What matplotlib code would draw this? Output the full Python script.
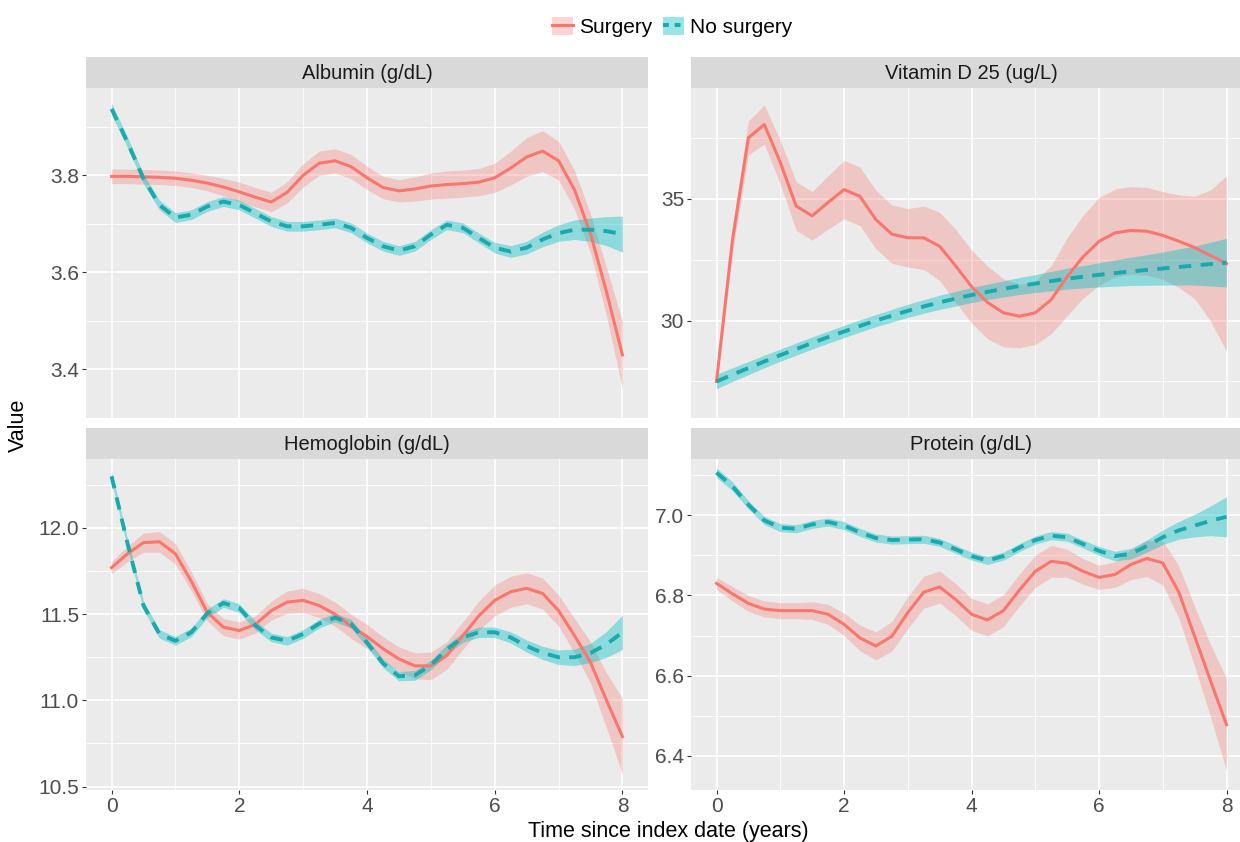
import matplotlib.pyplot as plt
from matplotlib.lines import Line2D
from matplotlib.patches import Patch
from matplotlib.ticker import FormatStrFormatter

times = [0, 0.25, 0.5, 0.75, 1, 1.25, 1.5, 1.75, 2, 2.25, 2.5, 2.75, 3, 3.25, 3.5, 3.75,
         4, 4.25, 4.5, 4.75, 5, 5.25, 5.5, 5.75, 6, 6.25, 6.5, 6.75, 7, 7.25, 7.5, 7.75, 8]

# Albumin (g/dL)
alb_surg = [3.798, 3.798, 3.797, 3.796, 3.794, 3.790, 3.784, 3.776, 3.766, 3.755, 3.745, 3.765,
            3.800, 3.825, 3.830, 3.818, 3.795, 3.775, 3.768, 3.772, 3.778, 3.781, 3.783, 3.786,
            3.795, 3.815, 3.838, 3.850, 3.830, 3.770, 3.680, 3.560, 3.430]
alb_surg_se = [0.015, 0.015, 0.015, 0.015, 0.015, 0.015, 0.016, 0.018, 0.02, 0.02, 0.02, 0.022,
               0.024, 0.025, 0.025, 0.025, 0.024, 0.023, 0.023, 0.025, 0.027, 0.028, 0.028, 0.028,
               0.03, 0.035, 0.04, 0.042, 0.04, 0.04, 0.04, 0.05, 0.07]
alb_none = [3.937, 3.868, 3.793, 3.739, 3.713, 3.719, 3.736, 3.746, 3.739, 3.722, 3.705, 3.695,
            3.695, 3.698, 3.702, 3.692, 3.671, 3.654, 3.645, 3.654, 3.678, 3.698, 3.692, 3.671,
            3.651, 3.643, 3.651, 3.668, 3.681, 3.688, 3.688, 3.685, 3.679]
alb_none_se = [0.012, 0.011, 0.01, 0.01, 0.01, 0.01, 0.01, 0.01, 0.01, 0.01, 0.01, 0.01,
               0.01, 0.01, 0.01, 0.01, 0.01, 0.01, 0.01, 0.01, 0.01, 0.01, 0.01, 0.01,
               0.011, 0.012, 0.013, 0.015, 0.017, 0.02, 0.024, 0.03, 0.037]

# Vitamin D 25 (ug/L)
vitd_surg = [27.5, 33.3, 37.5, 38.05, 36.5, 34.7, 34.3, 34.85, 35.38, 35.1, 34.15, 33.55,
             33.4, 33.4, 33.05, 32.25, 31.4, 30.75, 30.32, 30.18, 30.32, 30.86, 31.8, 32.62,
             33.25, 33.6, 33.7, 33.67, 33.5, 33.26, 33.0, 32.67, 32.34]
vitd_surg_se = [0.15, 0.5, 0.7, 0.8, 0.9, 1.0, 1.0, 1.1, 1.2, 1.2, 1.2, 1.2,
                1.2, 1.3, 1.4, 1.5, 1.5, 1.5, 1.4, 1.3, 1.3, 1.4, 1.6, 1.7,
                1.8, 1.8, 1.8, 1.8, 1.8, 1.9, 2.1, 2.7, 3.6]
vitd_none = [27.5, 27.78, 28.05, 28.32, 28.58, 28.83, 29.08, 29.32, 29.55, 29.78, 30.0, 30.2,
             30.4, 30.58, 30.75, 30.9, 31.05, 31.18, 31.3, 31.42, 31.52, 31.62, 31.72, 31.8,
             31.88, 31.95, 32.02, 32.08, 32.14, 32.2, 32.26, 32.32, 32.38]
vitd_none_se = [0.3, 0.28, 0.27, 0.26, 0.25, 0.25, 0.25, 0.25, 0.25, 0.25, 0.25, 0.26,
                0.27, 0.28, 0.29, 0.3, 0.31, 0.32, 0.33, 0.35, 0.37, 0.4, 0.43, 0.46,
                0.5, 0.54, 0.58, 0.63, 0.68, 0.74, 0.8, 0.9, 1.0]

# Hemoglobin (g/dL)
hgb_surg = [11.77, 11.85, 11.915, 11.92, 11.85, 11.69, 11.51, 11.425, 11.405, 11.44, 11.52, 11.57,
            11.58, 11.55, 11.50, 11.43, 11.37, 11.30, 11.24, 11.20, 11.20, 11.26, 11.375, 11.49,
            11.58, 11.63, 11.65, 11.62, 11.52, 11.375, 11.22, 11.0, 10.79]
hgb_surg_se = [0.035, 0.045, 0.055, 0.06, 0.06, 0.055, 0.05, 0.05, 0.05, 0.05, 0.055, 0.065,
               0.07, 0.07, 0.07, 0.07, 0.07, 0.07, 0.07, 0.075, 0.08, 0.08, 0.08, 0.085,
               0.09, 0.09, 0.09, 0.09, 0.09, 0.1, 0.12, 0.16, 0.22]
hgb_none = [12.30, 11.91, 11.55, 11.385, 11.345, 11.395, 11.505, 11.565, 11.535, 11.435, 11.365, 11.345,
            11.385, 11.445, 11.48, 11.445, 11.335, 11.215, 11.14, 11.145, 11.205, 11.295, 11.365, 11.395,
            11.395, 11.365, 11.315, 11.275, 11.25, 11.25, 11.275, 11.325, 11.395]
hgb_none_se = [0.03, 0.028, 0.026, 0.025, 0.025, 0.025, 0.025, 0.025, 0.025, 0.025, 0.025, 0.025,
               0.025, 0.025, 0.025, 0.025, 0.025, 0.025, 0.027, 0.028, 0.028, 0.028, 0.028, 0.03,
               0.03, 0.032, 0.035, 0.038, 0.042, 0.048, 0.056, 0.075, 0.1]

# Protein (g/dL)
prot_surg = [6.83, 6.804, 6.78, 6.766, 6.762, 6.762, 6.762, 6.753, 6.728, 6.694, 6.674, 6.698,
             6.757, 6.808, 6.821, 6.79, 6.753, 6.739, 6.762, 6.813, 6.86, 6.885, 6.88, 6.86,
             6.845, 6.852, 6.877, 6.892, 6.881, 6.809, 6.698, 6.587, 6.478]
prot_surg_se = [0.015, 0.018, 0.02, 0.02, 0.02, 0.02, 0.022, 0.025, 0.028, 0.032, 0.035, 0.037,
                0.04, 0.04, 0.04, 0.04, 0.04, 0.04, 0.04, 0.04, 0.04, 0.04, 0.035, 0.032,
                0.03, 0.032, 0.038, 0.045, 0.055, 0.065, 0.075, 0.09, 0.115]
prot_none = [7.106, 7.072, 7.026, 6.987, 6.969, 6.966, 6.977, 6.983, 6.974, 6.957, 6.943, 6.938,
             6.939, 6.94, 6.932, 6.915, 6.898, 6.887, 6.898, 6.919, 6.938, 6.949, 6.945, 6.928,
             6.911, 6.898, 6.904, 6.923, 6.945, 6.962, 6.974, 6.986, 6.996]
prot_none_se = [0.012, 0.011, 0.01, 0.01, 0.01, 0.01, 0.01, 0.01, 0.01, 0.01, 0.01, 0.01,
                0.01, 0.01, 0.01, 0.01, 0.01, 0.01, 0.01, 0.01, 0.01, 0.01, 0.01, 0.01,
                0.011, 0.012, 0.013, 0.015, 0.018, 0.022, 0.028, 0.037, 0.05]

x_ticks = [0, 2, 4, 6, 8]
x_minor = [1, 3, 5, 7]

panels = [
    ("Albumin (g/dL)", alb_surg, alb_surg_se, alb_none, alb_none_se,
     [3.4, 3.6, 3.8], [3.3, 3.5, 3.7, 3.9], (3.31, 3.98), "%.1f"),
    ("Vitamin D 25 (ug/L)", vitd_surg, vitd_surg_se, vitd_none, vitd_none_se,
     [30, 35], [27.5, 32.5, 37.5], (26.0, 39.55), "%d"),
    ("Hemoglobin (g/dL)", hgb_surg, hgb_surg_se, hgb_none, hgb_none_se,
     [10.5, 11.0, 11.5, 12.0], [10.75, 11.25, 11.75, 12.25], (10.48, 12.40), "%.1f"),
    ("Protein (g/dL)", prot_surg, prot_surg_se, prot_none, prot_none_se,
     [6.4, 6.6, 6.8, 7.0], [6.5, 6.7, 6.9, 7.1], (6.315, 7.14), "%.1f"),
]

RED = '#F8766D'
TEAL = '#00BFC4'
TEAL_LINE = '#1AA9AD'

plt.rcParams['font.family'] = ['Liberation Sans', 'DejaVu Sans']

W, H = 1240, 842
fig = plt.figure(figsize=(W / 100, H / 100), dpi=100)


def px_axes(x0, y0, x1, y1):
    return fig.add_axes([x0 / W, 1 - y1 / H, (x1 - x0) / W, (y1 - y0) / H])


# pixel boxes: (left, right) per column, (strip top, panel top, panel bottom) per row
cols = [(86, 648), (691, 1252)]
rows = [(57, 88, 418), (428, 459, 790)]

for i, (title, s, s_se, n, n_se, yt, ym, ylim, fmt) in enumerate(panels):
    r, c = divmod(i, 2)
    x0, x1 = cols[c]
    st, pt, pb = rows[r]

    strip = px_axes(x0, st, x1, pt)
    strip.set_facecolor('#D9D9D9')
    strip.set_xticks([])
    strip.set_yticks([])
    for sp in strip.spines.values():
        sp.set_visible(False)
    strip.text(0.5, 0.48, title, ha='center', va='center', fontsize=14.5, color='#1A1A1A',
               transform=strip.transAxes)

    ax = px_axes(x0, pt, x1, pb)
    ax.set_facecolor('#EBEBEB')
    for sp in ax.spines.values():
        sp.set_visible(False)

    lo_s = [m - e for m, e in zip(s, s_se)]
    hi_s = [m + e for m, e in zip(s, s_se)]
    lo_n = [m - e for m, e in zip(n, n_se)]
    hi_n = [m + e for m, e in zip(n, n_se)]
    ax.fill_between(times, lo_s, hi_s, color=RED, alpha=0.3, lw=0)
    ax.fill_between(times, lo_n, hi_n, color=TEAL, alpha=0.4, lw=0)
    ax.plot(times, s, color=RED, lw=2.2, solid_joinstyle='round')
    ax.plot(times, n, color=TEAL_LINE, lw=2.8, dashes=(3.2, 2.4))

    ax.set_xlim(-0.4, 8.4)
    ax.set_ylim(*ylim)
    ax.set_xticks(x_ticks)
    ax.set_xticks(x_minor, minor=True)
    ax.set_yticks(yt)
    ax.set_yticks(ym, minor=True)
    ax.yaxis.set_major_formatter(FormatStrFormatter(fmt))
    ax.grid(which='major', color='white', lw=1.2)
    ax.grid(which='minor', color='white', lw=0.6)
    ax.set_axisbelow(True)
    ax.tick_params(which='major', length=3, width=0.8, color='#333333', labelcolor='#4D4D4D',
                   labelsize=15, pad=2)
    ax.tick_params(which='minor', length=0)
    if r == 0:
        ax.tick_params(axis='x', which='major', length=0, labelbottom=False)

fig.text(668 / W, 1 - 831 / H, 'Time since index date (years)', ha='center', va='center',
         fontsize=15.5, color='black')
fig.text(18 / W, 1 - 425 / H, 'Value', ha='center', va='center', rotation=90,
         fontsize=15.5, color='black')

handles = [
    (Patch(facecolor=RED, alpha=0.3, lw=0), Line2D([], [], color=RED, lw=2.2)),
    (Patch(facecolor=TEAL, alpha=0.4, lw=0), Line2D([], [], color=TEAL_LINE, lw=2.8, dashes=(1.5, 1.5))),
]
fig.legend(handles, ['Surgery', 'No surgery'], loc='center', bbox_to_anchor=(672 / W, 1 - 27 / H),
           ncol=2, frameon=False, fontsize=15, handlelength=1.0, handleheight=1.0,
           handletextpad=0.3, columnspacing=0.5)

fig.savefig('out.png', dpi=100)
